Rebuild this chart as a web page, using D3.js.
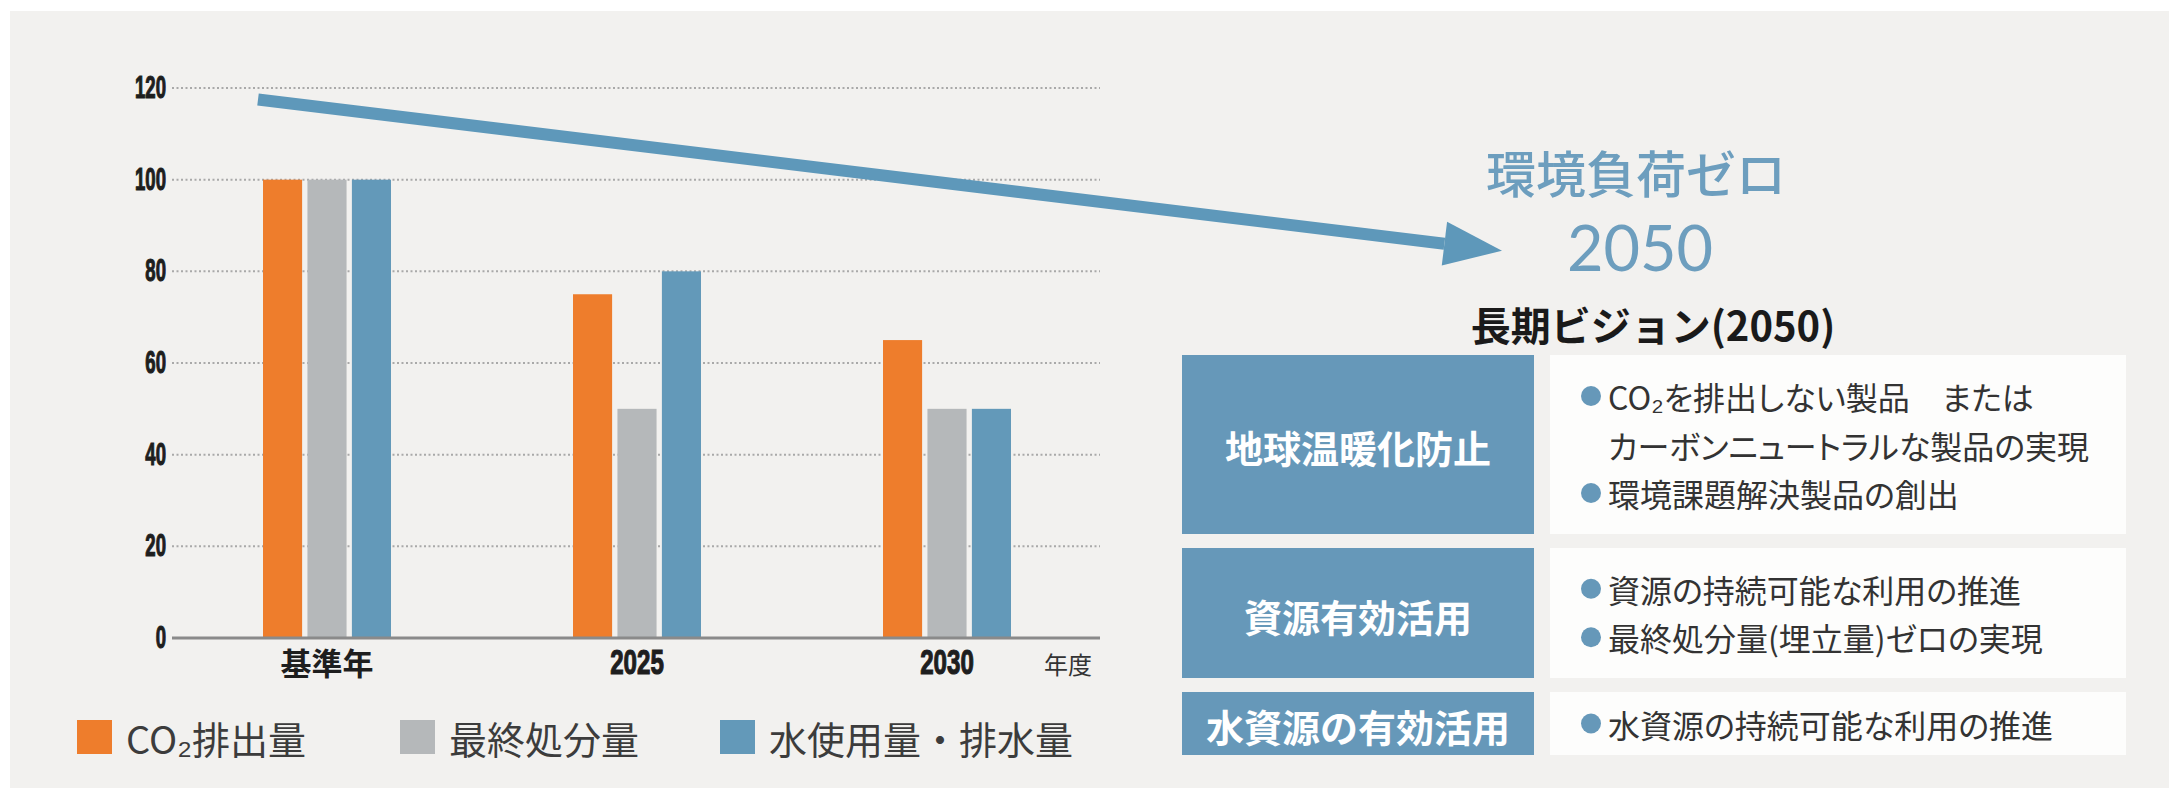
<!DOCTYPE html>
<html>
<head>
<meta charset="utf-8">
<script src="https://cdn.jsdelivr.net/npm/d3@7"></script>
<style>
body { margin: 0; background: #fff; }
text { font-family: "Noto Sans CJK JP", sans-serif; }
</style>
</head>
<body>
<svg id="chart"></svg>
<script>
// data
var categories = ["基準年", "2025", "2030"];
var seriesNames = ["CO₂排出量", "最終処分量", "水使用量・排水量"];
var co2Values = [100, 75, 65];
var wasteValues = [100, 50, 50];
var waterValues = [100, 80, 50];
var yTicks = [0, 20, 40, 60, 80, 100, 120];
var trendFromTo = [117.5, 84.5];   // the big arrow, in axis units
var goalText = ["環境負荷ゼロ", "2050"];
var visionTitle = "長期ビジョン(2050)";
var visionHeads = ["地球温暖化防止", "資源有効活用", "水資源の有効活用"];
var visionItems = [
    [["●", "CO₂を排出しない製品　または"], ["", "カーボンニュートラルな製品の実現"], ["●", "環境課題解決製品の創出"]],
    [["●", "資源の持続可能な利用の推進"], ["●", "最終処分量(埋立量)ゼロの実現"]],
    [["●", "水資源の持続可能な利用の推進"]]
];

var colors = ["#ee7d2c", "#b5b8ba", "#6399b9"];
var seriesValues = [co2Values, wasteValues, waterValues];

var W = 2169, H = 788;
var svg = d3.select("#chart").attr("width", W).attr("height", H);

svg.append("rect")
    .attr("x", 10).attr("y", 11)
    .attr("width", W - 10).attr("height", H - 11)
    .attr("fill", "#f2f1ef");

var plot = {left: 172, right: 1102, top: 88, bottom: 638};

var yScale = d3.scaleLinear().domain([0, 120]).range([plot.bottom, plot.top]);
var xScale = d3.scaleBand().domain(categories).range([plot.left, plot.right]);
var xSub = d3.scaleBand().domain(d3.range(seriesNames.length)).range([-64, 64]).paddingInner(0.12);

// condensed digits: a normal bold face squeezed sideways by the caller
var narrow = function(sel, size) {
    sel.style("font-family", "'Liberation Sans', Arial, sans-serif")
        .style("font-weight", "bold")
        .style("font-size", size + "px")
        .attr("fill", "#1e1e1e")
        .attr("stroke", "#1e1e1e")
        .attr("stroke-width", 1.2);
}

// dotted grid
svg.append("g")
    .selectAll("line")
    .data(yTicks.filter(function(t) { return t > 0; }))
    .enter()
    .append("line")
    .attr("x1", plot.left).attr("x2", plot.right - 2)
    .attr("y1", function(t) { return yScale(t); })
    .attr("y2", function(t) { return yScale(t); })
    .attr("stroke", "#a9a9a9")
    .attr("stroke-width", 2)
    .attr("stroke-dasharray", "2 2.5");

// y axis labels
svg.append("g")
    .selectAll("text")
    .data(yTicks)
    .enter()
    .append("text")
    .attr("transform", function(t) { return "translate(" + (plot.left - 6) + "," + (yScale(t) - 1) + ") scale(0.58,1)"; })
    .attr("text-anchor", "end")
    .attr("dominant-baseline", "central")
    .call(narrow, 32)
    .text(function(t) { return t; });

// bars
var groups = svg.append("g")
    .selectAll("g")
    .data(categories)
    .enter()
    .append("g")
    .attr("transform", function(c) { return "translate(" + (xScale(c) + xScale.bandwidth() / 2) + ",0)"; });

groups.selectAll("rect")
    .data(function(c, i) {
        return seriesValues.map(function(vals, j) { return {s: j, v: vals[i]}; });
    })
    .enter()
    .append("rect")
    .attr("x", function(d) { return xSub(d.s); })
    .attr("width", xSub.bandwidth())
    .attr("y", function(d) { return yScale(d.v); })
    .attr("height", function(d) { return yScale(0) - yScale(d.v); })
    .attr("fill", function(d) { return colors[d.s]; });

// baseline
svg.append("line")
    .attr("x1", plot.left).attr("x2", plot.right - 2)
    .attr("y1", yScale(0)).attr("y2", yScale(0))
    .attr("stroke", "#8a8a8a").attr("stroke-width", 3);

// x axis labels
svg.append("g")
    .selectAll("text")
    .data(categories)
    .enter()
    .append("text")
    .attr("transform", function(c) {
        var t = "translate(" + (xScale(c) + xScale.bandwidth() / 2) + ",661)";
        return /^\d+$/.test(c) ? t + " scale(0.67,1)" : t;
    })
    .attr("text-anchor", "middle")
    .attr("dominant-baseline", "central")
    .each(function(c) {
        if (/^\d+$/.test(c)) {
            d3.select(this).call(narrow, 36);
        } else {
            d3.select(this).style("font-weight", "bold").style("font-size", "31px").attr("fill", "#1e1e1e");
        }
    })
    .text(function(c) { return c; });

svg.append("text")
    .attr("x", 1044).attr("y", 663)
    .attr("dominant-baseline", "central")
    .style("font-size", "24px")
    .attr("fill", "#333")
    .text("年度");

// legend
var legendX = [77, 400, 720];
var legend = svg.append("g")
    .selectAll("g")
    .data(seriesNames)
    .enter()
    .append("g")
    .attr("transform", function(d, i) { return "translate(" + legendX[i] + ",720)"; });
legend.append("rect")
    .attr("width", 35).attr("height", 34)
    .attr("fill", function(d, i) { return colors[i]; });
legend.append("text")
    .attr("x", 49).attr("y", 17)
    .attr("dominant-baseline", "central")
    .style("font-size", "38px")
    .attr("fill", "#3c3c3c")
    .text(function(d) { return d; });

// trend arrow
var arrowStart = [258, yScale(trendFromTo[0])];
var arrowTip = [1502, yScale(trendFromTo[1])];
var dx = arrowTip[0] - arrowStart[0], dy = arrowTip[1] - arrowStart[1];
var len = Math.sqrt(dx * dx + dy * dy);
var ux = dx / len, uy = dy / len;
var headLen = 58, headHalf = 22;
var base = [arrowTip[0] - ux * headLen, arrowTip[1] - uy * headLen];
svg.append("path")
    .attr("d", d3.line()([arrowStart, base]))
    .attr("stroke", "#5e98ba").attr("stroke-width", 12).attr("fill", "none");
svg.append("path")
    .attr("d", d3.line()([
        [base[0] - uy * headHalf, base[1] + ux * headHalf],
        arrowTip,
        [base[0] + uy * headHalf, base[1] - ux * headHalf]
    ]) + "Z")
    .attr("fill", "#5e98ba");

// goal text
svg.append("text")
    .attr("x", 1636).attr("y", 171)
    .attr("text-anchor", "middle").attr("dominant-baseline", "central")
    .style("font-size", "50px").style("font-weight", 500)
    .attr("fill", "#6d9ebe")
    .text(goalText[0]);
svg.append("text")
    .attr("x", 1640).attr("y", 271)
    .attr("text-anchor", "middle")
    .style("font-family", "Lato, 'Noto Sans', sans-serif")
    .style("font-size", "63px")
    .attr("fill", "#6d9ebe")
    .text(goalText[1]);

svg.append("text")
    .attr("x", 1653).attr("y", 324)
    .attr("text-anchor", "middle").attr("dominant-baseline", "central")
    .style("font-size", "40px").style("font-weight", "bold")
    .attr("fill", "#1a1a1a")
    .text(visionTitle);

// vision table
var rowTop = [355, 548, 692];
var rowH = [179, 130, 63];
var lineGap = 48.5;

var rows = svg.append("g")
    .selectAll("g")
    .data(visionHeads)
    .enter()
    .append("g")
    .attr("transform", function(d, i) { return "translate(0," + rowTop[i] + ")"; });

rows.append("rect")
    .attr("x", 1182).attr("width", 352)
    .attr("height", function(d, i) { return rowH[i]; })
    .attr("fill", "#6698b9");
rows.append("rect")
    .attr("x", 1550).attr("width", 576)
    .attr("height", function(d, i) { return rowH[i]; })
    .attr("fill", "#fdfdfc");
rows.append("text")
    .attr("x", 1358)
    .attr("y", function(d, i) { return rowH[i] / 2 + 2; })
    .attr("text-anchor", "middle").attr("dominant-baseline", "central")
    .style("font-size", "38px").style("font-weight", "bold")
    .attr("fill", "#fff")
    .text(function(d) { return d; });

rows.each(function(d, i) {
    var items = visionItems[i];
    var mid = rowH[i] / 2;
    var lines = d3.select(this).selectAll(".item")
        .data(items)
        .enter()
        .append("g")
        .attr("class", "item")
        .attr("transform", function(it, k) {
            return "translate(0," + (mid + (k - (items.length - 1) / 2) * lineGap) + ")";
        });
    lines.filter(function(it) { return it[0] !== ""; })
        .append("circle")
        .attr("cx", 1591).attr("cy", 0).attr("r", 10)
        .attr("fill", "#6698b9");
    lines.append("text")
        .attr("x", 1608).attr("y", 0)
        .attr("dominant-baseline", "central")
        .style("font-size", "32px")
        .style("font-feature-settings", "'palt'")
        .attr("fill", "#333")
        .text(function(it) { return it[1]; });
});
</script>
</body>
</html>
